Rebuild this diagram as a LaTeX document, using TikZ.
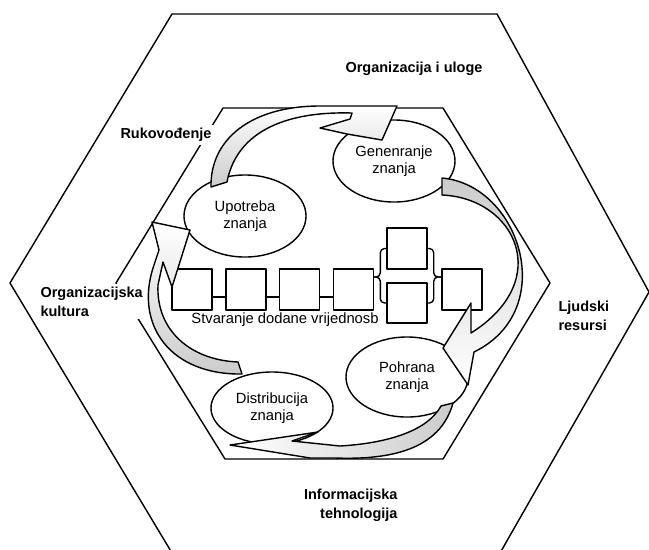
\documentclass[tikz,border=0pt]{standalone}
\usepackage{fontspec}
\setmainfont{Liberation Sans}
\usetikzlibrary{shapes.geometric}

\begin{document}
\begin{tikzpicture}[x = 0.025cm, y = -0.025cm, line width = 1pt, line join = round,
	stage/.style = {ellipse, draw, fill = white, minimum width = 3.05cm, minimum height = 2.05cm, inner sep = 0pt, align = center, font = \fontsize{10.5}{12.5}\selectfont},
	area/.style = {fill = white, inner sep = 2pt, align = left, font = \fontsize{10.3}{13.5}\selectfont\bfseries},
	box/.style = {draw, minimum width = 1cm, minimum height = 1.025cm, inner sep = 0pt},
	flow/.style = {draw}]

	\useasboundingbox (0,0) rectangle (649,549);
	\clip (0,0) rectangle (649,549);

	% Hexagons
	
		\draw (172,14) -- (497,14) -- (649,292) -- (500,553) -- (172,553) -- (10,283) -- cycle;
		\draw (223,108) -- (443,108) -- (550,283) -- (443,459) -- (225,459) -- (116,283) -- cycle;
	
	% Outer labels
	
		\node (roles) [area] at (414,69) {Organizacija i uloge};
		\node (lead) [area] at (166,135) {Rukovođenje};
		\node (culture) [area, anchor = west] at (37,301.5) {Organizacijska\\kultura};
		\node (people) [area, anchor = west] at (555,316) {Ljudski\\resursi};
		\node (tech) [area, anchor = east, align = right] at (401,505.5) {Informacijska\\tehnologija};
	
	% Value chain
	
		\coordinate (chain) at (0,297);
		\coordinate (fork) at (0,277);
		
		\node (b1) [box] at (192,289.5) {};
		\node (b2) [box] at (246,289.5) {};
		\node (b3) [box] at (299.5,289.5) {};
		\node (b4) [box] at (353.5,289.5) {};
		\node (b5) [box] at (407,248.5) {};
		\node (b6) [box, minimum height = 1cm] at (407,303) {};
		\node (b7) [box] at (462,289.5) {};
		
		\draw (b1.east |- chain) -- (b2.west |- chain);
		\draw (b2.east |- chain) -- (b3.west |- chain);
		\draw (b3.east |- chain) -- (b4.west |- chain);
		
		\begin{scope}[rounded corners = 3pt]
		
			\draw (b5.west) -- ++(-6,0) |- (b4.east |- fork);
			\draw (b6.west) -- ++(-6,0) |- (b4.east |- fork);
			\draw (b5.east) -- ++(6,0) |- (b7.west |- fork);
			\draw (b6.east) -- ++(6,0) |- (b7.west |- fork);
		
		\end{scope}
		
		\node (value) [font = \fontsize{10.5}{12.5}\selectfont, inner sep = 0pt] at (285,320) {Stvaranje dodane vrijednosb};
	
	% Knowledge stages
	
		\node (gen) [stage] at (394,161) {Genenranje\\znanja};
		\node (use) [stage] at (245,216) {Upotreba\\znanja};
		\node (store) [stage, minimum height = 2cm] at (407,377) {Pohrana\\znanja};
		\node (share) [stage, minimum height = 1.8cm] at (272,408) {Distribucija\\znanja};
	
	% Curved arrows of the cycle
	
		% Upotreba -> Genenranje
		\draw [flow, top color = white, middle color = white, bottom color = gray!40]
			(211,187) .. controls (210,140) and (250,106) .. (320,106)
			-- (397,106) -- (382,140) -- (347,134) -- (320,128) -- (350,119) -- (352,113)
			.. controls (280,111) and (236,135) .. (227,182) -- cycle;
		
		% Genenranje -> Pohrana
		\draw [flow, top color = gray!40, middle color = white, bottom color = white]
			(442,178) .. controls (520,185) and (560,310) .. (474,352)
			-- (468,385) -- (443,348) -- (471,303) -- (471,333)
			.. controls (555,280) and (515,198) .. (442,195) -- cycle;
		
		% Pohrana -> Distribucija
		\draw [flow, left color = white, middle color = white, right color = gray!40]
			(453,403) .. controls (440,450) and (390,460) .. (335,458)
			-- (310,458) -- (230,445) -- (318,432) -- (292,441) -- (340,446)
			.. controls (390,443) and (428,430) .. (441,406) -- cycle;
		
		% Distribucija -> Upotreba
		\draw [flow, top color = white, middle color = white, bottom color = gray!40]
			(242,374) .. controls (170,375) and (135,325) .. (153,268)
			-- (159,250) -- (152,222) -- (190,230) -- (172,287) -- (163,262) -- (158,285)
			.. controls (156,330) and (190,360) .. (238,362) -- cycle;

\end{tikzpicture}
\end{document}
